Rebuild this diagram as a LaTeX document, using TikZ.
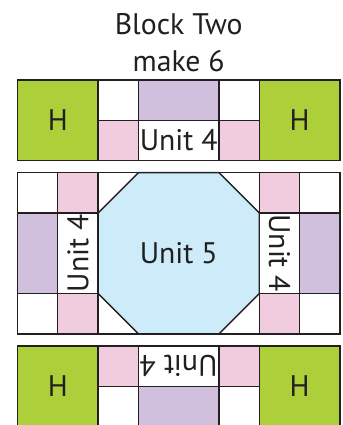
\documentclass[tikz,border=0pt]{standalone}
\usepackage{fontspec}
\setmainfont{PT Sans}
\definecolor{hgreen}{RGB}{172,207,58}
\definecolor{qpurple}{RGB}{208,192,222}
\definecolor{qpink}{RGB}{241,203,222}
\definecolor{qblue}{RGB}{205,235,248}
\definecolor{qline}{RGB}{35,31,32}
\begin{document}
\begin{tikzpicture}[
  patch/.style={draw=qline, line width=1pt},
  lbl/.style={font=\fontsize{21}{26}\selectfont, text=qline, inner sep=0pt},
  x=1cm, y=1cm
]
\useasboundingbox (-0.434,1.985) rectangle (8.077,-8.561);

\node[lbl, anchor=base] (title) at (4,1.134) {Block Two};
\node[lbl, anchor=base] (count) at (4,0.223) {make 6};

% top strip
\draw[patch, fill=hgreen] (0,0) rectangle (2,-2);
\draw[patch, fill=white] (2,0) rectangle (3,-1);
\draw[patch, fill=qpink] (2,-1) rectangle (3,-2);
\draw[patch, fill=qpurple] (3,0) rectangle (5,-1);
\draw[patch, fill=white] (3,-1) rectangle (5,-2);
\draw[patch, fill=white] (5,0) rectangle (6,-1);
\draw[patch, fill=qpink] (5,-1) rectangle (6,-2);
\draw[patch, fill=hgreen] (6,0) rectangle (8,-2);
\node[lbl] (h_tl) at (1,-1) {H};
\node[lbl] (h_tr) at (7,-1) {H};
\node[lbl] (u_top) at (4,-1.5) {Unit 4};

% middle block
\draw[patch, fill=white] (0,-2.3) rectangle (1,-3.3);
\draw[patch, fill=qpurple] (0,-3.3) rectangle (1,-5.3);
\draw[patch, fill=white] (0,-5.3) rectangle (1,-6.3);
\draw[patch, fill=qpink] (1,-2.3) rectangle (2,-3.3);
\draw[patch, fill=white] (1,-3.3) rectangle (2,-5.3);
\draw[patch, fill=qpink] (1,-5.3) rectangle (2,-6.3);
\draw[patch, fill=white] (2,-2.3) rectangle (6,-6.3);
\draw[patch, fill=qblue] (3,-2.3) -- (5,-2.3) -- (6,-3.3) -- (6,-5.3)
  -- (5,-6.3) -- (3,-6.3) -- (2,-5.3) -- (2,-3.3) -- cycle;
\draw[patch, fill=qpink] (6,-2.3) rectangle (7,-3.3);
\draw[patch, fill=white] (6,-3.3) rectangle (7,-5.3);
\draw[patch, fill=qpink] (6,-5.3) rectangle (7,-6.3);
\draw[patch, fill=white] (7,-2.3) rectangle (8,-3.3);
\draw[patch, fill=qpurple] (7,-3.3) rectangle (8,-5.3);
\draw[patch, fill=white] (7,-5.3) rectangle (8,-6.3);
\node[lbl, rotate=90] (u_left) at (1.5,-4.3) {Unit 4};
\node[lbl] (u_mid) at (4,-4.3) {Unit 5};
\node[lbl, rotate=-90] (u_right) at (6.5,-4.3) {Unit 4};

% bottom strip
\draw[patch, fill=hgreen] (0,-6.6) rectangle (2,-8.6);
\draw[patch, fill=qpink] (2,-6.6) rectangle (3,-7.6);
\draw[patch, fill=white] (2,-7.6) rectangle (3,-8.6);
\draw[patch, fill=white] (3,-6.6) rectangle (5,-7.6);
\draw[patch, fill=qpurple] (3,-7.6) rectangle (5,-8.6);
\draw[patch, fill=qpink] (5,-6.6) rectangle (6,-7.6);
\draw[patch, fill=white] (5,-7.6) rectangle (6,-8.6);
\draw[patch, fill=hgreen] (6,-6.6) rectangle (8,-8.6);
\node[lbl] (h_bl) at (1,-7.6) {H};
\node[lbl] (h_br) at (7,-7.6) {H};
\node[lbl, rotate=180] (u_bot) at (4,-7.1) {Unit 4};
\end{tikzpicture}
\end{document}
